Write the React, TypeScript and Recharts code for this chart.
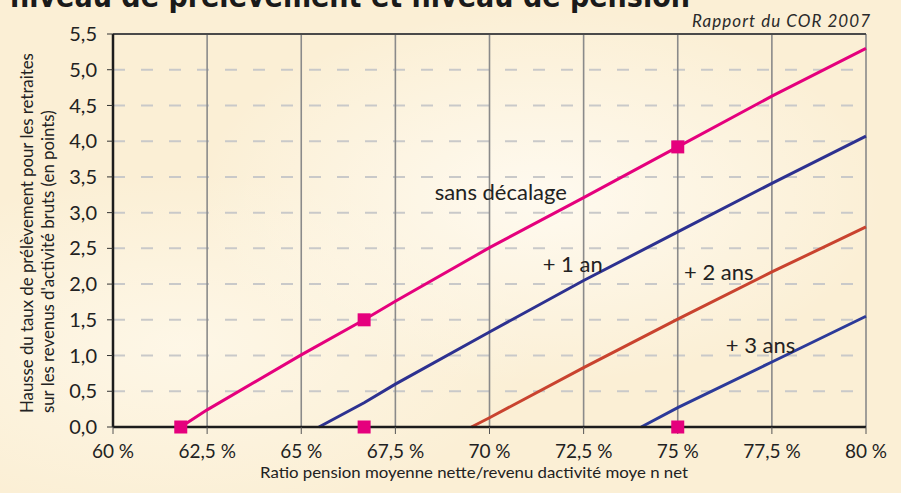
import React from 'react';
import {
  ComposedChart, Line, Scatter, XAxis, YAxis, CartesianGrid, ReferenceLine, ReferenceDot,
} from 'recharts';

// courbes (x = ratio en %, y = hausse en points)
const sansDecalageX = [61.8, 62.5, 65, 66.67, 67.5, 70, 72.5, 75, 77.5, 80];
const sansDecalageY = [0, 0.24, 1.01, 1.5, 1.76, 2.51, 3.21, 3.92, 4.63, 5.3];

const unAnX = [65.47, 66.67, 67.5, 70, 72.5, 75, 77.5, 80];
const unAnY = [0, 0.34, 0.6, 1.33, 2.05, 2.73, 3.41, 4.07];

const deuxAnsX = [69.52, 70, 72.5, 75, 77.5, 80];
const deuxAnsY = [0, 0.13, 0.83, 1.51, 2.17, 2.8];

const troisAnsX = [74.03, 75, 77.5, 80];
const troisAnsY = [0, 0.27, 0.91, 1.55];

const markerX = [61.8, 66.67, 75, 66.67, 75];
const markerY = [0, 1.5, 3.92, 0, 0];

const xTicks = [60, 62.5, 65, 67.5, 70, 72.5, 75, 77.5, 80];
const yTicks = [0, 0.5, 1, 1.5, 2, 2.5, 3, 3.5, 4, 4.5, 5, 5.5];

// étiquettes des courbes : texte, position (x, y)
const curveLabels = [
  { text: 'sans décalage', x: 70.3, y: 3.28 },
  { text: '+ 1 an', x: 72.21, y: 2.28 },
  { text: '+ 2 ans', x: 76.09, y: 2.17 },
  { text: '+ 3 ans', x: 77.2, y: 1.15 },
];

const toPoints = (xs: number[], ys: number[]) => xs.map((x, i) => ({ x, y: ys[i] }));

const PINK = '#e5007d';
const NAVY = '#2d3190';
const RED = '#c9432f';
const FONT = 'Lato, "Open Sans", sans-serif';

const fmtX = (v: number) => `${String(v).replace('.', ',')} %`;
const fmtY = (v: number) => v.toFixed(1).replace('.', ',');

const SquareMarker = (props: any) => {
  const { cx, cy } = props;
  return <rect x={cx - 6.5} y={cy - 6.5} width={13} height={13} fill={PINK} />;
};

export default function App() {
  const series = [
    { name: 'sans décalage', data: toPoints(sansDecalageX, sansDecalageY), color: PINK },
    { name: '+ 1 an', data: toPoints(unAnX, unAnY), color: NAVY },
    { name: '+ 2 ans', data: toPoints(deuxAnsX, deuxAnsY), color: RED },
    { name: '+ 3 ans', data: toPoints(troisAnsX, troisAnsY), color: '#2c3a99' },
  ];
  const markers = toPoints(markerX, markerY);

  return (
    <div
      style={{
        position: 'fixed', top: 0, left: 0, width: 901, height: 493, overflow: 'hidden',
        background:
          'radial-gradient(ellipse at 60% 40%, rgba(255,251,242,0.9) 0%, rgba(255,251,242,0) 45%), radial-gradient(ellipse at 20% 70%, rgba(255,250,238,0.7) 0%, rgba(255,250,238,0) 35%), #fbefd5',
        fontFamily: FONT,
      }}
    >
      <ComposedChart width={901} height={493} margin={{ top: 34, right: 35, bottom: 26, left: 53 }}>
        <CartesianGrid horizontal vertical={false} stroke="#c9c9c9" strokeWidth={2} strokeDasharray="12 16" />
        <CartesianGrid horizontal={false} vertical stroke="#8a8a8a" strokeWidth={1.6} />
        <XAxis
          type="number"
          dataKey="x"
          domain={[60, 80]}
          ticks={xTicks}
          tickFormatter={fmtX}
          allowDuplicatedCategory={false}
          height={40}
          tickSize={7}
          tickMargin={11}
          axisLine={{ stroke: '#1c1c1c', strokeWidth: 2.5 }}
          tickLine={{ stroke: '#555' }}
          tick={{ fill: '#222', fontSize: 19, fontFamily: FONT }}
        />
        <YAxis
          type="number"
          domain={[0, 5.5]}
          ticks={yTicks}
          tickFormatter={fmtY}
          width={60}
          tickSize={6}
          tickMargin={10}
          axisLine={{ stroke: '#1c1c1c', strokeWidth: 2.5 }}
          tickLine={{ stroke: '#333' }}
          tick={{ fill: '#222', fontSize: 20, fontFamily: FONT }}
        />
        <ReferenceLine y={5.5} stroke="#4a4a4a" strokeWidth={2} />
        {series.map((s) => (
          <Line
            key={s.name}
            data={s.data}
            dataKey="y"
            type="linear"
            stroke={s.color}
            strokeWidth={3}
            dot={false}
            activeDot={false}
            isAnimationActive={false}
          />
        ))}
        <Scatter data={markers} dataKey="y" shape={SquareMarker} isAnimationActive={false} />
        {curveLabels.map((l) => (
          <ReferenceDot
            key={l.text}
            x={l.x}
            y={l.y}
            r={0}
            ifOverflow="visible"
            label={{ value: l.text, position: 'center', fill: '#222', fontSize: 22, fontFamily: FONT }}
          />
        ))}
      </ComposedChart>

      <svg width={901} height={493} style={{ position: 'absolute', top: 0, left: 0, pointerEvents: 'none' }}>
        <text x={10} y={7} fontSize={30} fontWeight="bold" fill="#1a1a1a" fontFamily="'DejaVu Sans', sans-serif" textLength={680} lengthAdjust="spacingAndGlyphs">
          niveau de prélèvement et niveau de pension
        </text>
        <text x={692} y={26.5} fontSize={17} fontStyle="italic" fill="#2a2a2a" fontFamily={FONT} textLength={178} lengthAdjust="spacing">
          Rapport du COR 2007
        </text>
        <text x={474} y={478} textAnchor="middle" fontSize={16} fill="#222" fontFamily={FONT} textLength={428} lengthAdjust="spacingAndGlyphs">
          Ratio pension moyenne nette/revenu dactivité moye n net
        </text>
        <g transform="translate(33 413) rotate(-90)">
          <text x={0} y={0} fontSize={16.8} fill="#222" fontFamily={FONT}>
            Hausse du taux de prélèvement pour les retraites
          </text>
          <text x={0} y={21} fontSize={16.8} fill="#222" fontFamily={FONT}>
            sur les revenus d'activité bruts (en points)
          </text>
        </g>
      </svg>
    </div>
  );
}
